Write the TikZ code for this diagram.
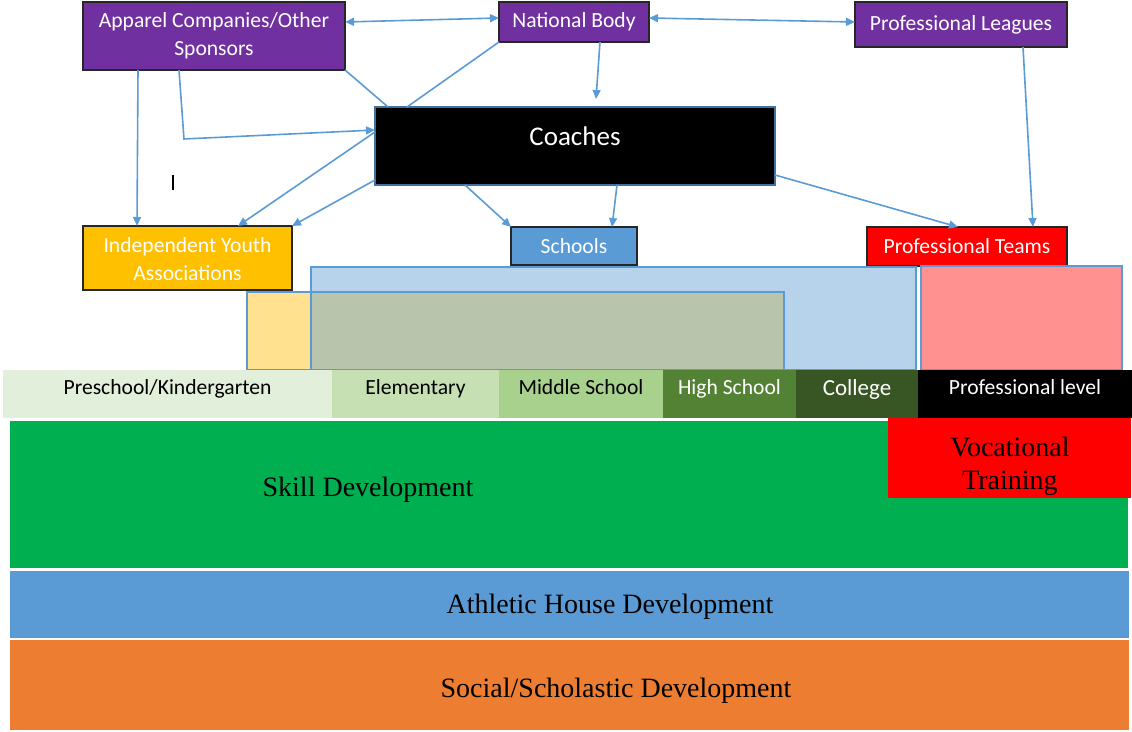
\documentclass[tikz,border=0pt]{standalone}
\usepackage{fontspec}
\setmainfont{Liberation Serif}
\newfontfamily\calibri{Carlito}
\usetikzlibrary{arrows.meta}

\definecolor{orgpurple}{HTML}{7030A0}
\definecolor{coachline}{HTML}{41719C}
\definecolor{youthgold}{HTML}{FFC000}
\definecolor{linkblue}{HTML}{5B9BD5}
\definecolor{zoneblue}{HTML}{B7D3EC}
\definecolor{zoneyellow}{HTML}{FFE190}
\definecolor{zonegrey}{HTML}{B8C4AC}
\definecolor{zonepink}{HTML}{FF9191}
\definecolor{stageA}{HTML}{E2EFDA}
\definecolor{stageB}{HTML}{C6E0B4}
\definecolor{stageC}{HTML}{A9D18E}
\definecolor{stageD}{HTML}{548235}
\definecolor{stageE}{HTML}{375623}
\definecolor{skillgreen}{HTML}{00B050}
\definecolor{socorange}{HTML}{ED7D31}

\begin{document}
\begin{tikzpicture}[x=0.5pt, y=-0.5pt,
    box/.style={draw=black!85, line width=0.6pt, inner sep=0pt, outer sep=0pt,
      text=white, align=center, font=\calibri\fontsize{10.8}{14}\selectfont},
    stage/.style={inner sep=0pt, outer sep=0pt, minimum height=24pt,
      text height=7pt, text depth=6.5pt,
      font=\calibri\fontsize{10.8}{12}\selectfont},
    band/.style={inner sep=0pt, outer sep=0pt},
    big/.style={align=center, font=\fontsize{14}{16.5}\selectfont},
    link/.style={draw=linkblue, line width=0.8pt},
    arr/.style={link, -{Triangle[length=4.5pt,width=4pt]}},
    zone/.style={draw=linkblue, line width=1pt}]
  \useasboundingbox (0,0) rectangle (1132,732);

  % organisations
  \node[box, fill=orgpurple, minimum width=131pt, minimum height=34pt] (app) at (214,36)
    {Apparel Companies/Other\\Sponsors};
  \node[box, fill=orgpurple, minimum width=75pt, minimum height=20pt] (nat) at (574,22)
    {National Body};
  \node[box, fill=orgpurple, minimum width=106pt, minimum height=22.5pt] (lea) at (961,24.5)
    {Professional Leagues};
  \node[box, draw=coachline, fill=black, minimum width=200pt, minimum height=39pt,
    text height=9.5pt, text depth=9.5pt,
    font=\calibri\fontsize{13.5}{15}\selectfont] (coach) at (575,146) {Coaches};
  \node[box, fill=youthgold, minimum width=104.5pt, minimum height=32pt] (iya) at (187.5,258)
    {\rule{0pt}{9pt}Independent Youth\\Associations};
  \node[box, fill=linkblue, minimum width=63pt, minimum height=19pt] (sch) at (574,246)
    {Schools};
  \node[box, fill=red, minimum width=100pt, minimum height=19.5pt] (team) at (967,246.5)
    {Professional Teams};

  % reach of each provider
  \fill[zoneblue] (311,267) rectangle (916,370);
  \fill[zoneyellow] (247,292) rectangle (311,370);
  \fill[zonegrey] (311,292) rectangle (784,370);
  \draw[zone] (311,267) rectangle (916,370);
  \draw[zone] (247,292) rectangle (784,370);
  \fill[zonepink] (921,266) rectangle (1122,370);
  \draw[zone] (921,266) rectangle (1122,370);

  % stages
  \node[stage, fill=stageA, minimum width=164.5pt] (pre) at (167.5,394) {Preschool/Kindergarten};
  \node[stage, fill=stageB, minimum width=83.5pt] (elem) at (415.5,394) {Elementary};
  \node[stage, fill=stageC, minimum width=82pt] (mid) at (581,394) {Middle School};
  \node[stage, fill=stageD, minimum width=66.5pt, text=white] (high) at (729.5,394) {High School};
  \node[stage, fill=stageE, minimum width=61pt, text=white, text depth=5.5pt,
    font=\calibri\fontsize{11.5}{13}\selectfont] (col) at (857,394) {College};
  \node[stage, fill=black, minimum width=107pt, text=white] (pro) at (1025,394) {Professional level};

  % development layers
  \node[band, fill=skillgreen, minimum width=559pt, minimum height=73.5pt] (skill) at (569,494.5) {};
  \node[big] (skilltxt) at (368,490) {Skill Development};
  \node[band, fill=red, minimum width=121.5pt, minimum height=40pt] (voc) at (1009.5,458) {};
  \node[big] (voctxt) at (1010,466) {Vocational\\Training};
  \node[band, fill=linkblue, minimum width=559.5pt, minimum height=33.5pt] (ath) at (569.5,604.5) {};
  \node[big] (athtxt) at (610,607) {Athletic House Development};
  \node[band, fill=socorange, minimum width=559.5pt, minimum height=45pt] (soc) at (569.5,685) {};
  \node[big] (soctxt) at (616,691) {Social/Scholastic Development};

  % links
  \draw[link, {Triangle[length=4.5pt,width=4pt]}-{Triangle[length=4.5pt,width=4pt]}]
    ([yshift=7pt]app.east) -- ([yshift=2pt]nat.west);
  \draw[link, {Triangle[length=4.5pt,width=4pt]}-{Triangle[length=4.5pt,width=4pt]}]
    ([yshift=2pt]nat.east) -- ([yshift=1.25pt]lea.west);
  \draw[arr] ([xshift=27.5pt]app.south west) -- ([xshift=27pt]iya.north west);
  \coordinate (bend) at (184,139);
  \draw[arr] ([xshift=48pt]app.south west) -- (bend) -- ([yshift=8pt]coach.west);
  \draw[link] (app.south east) -- ([xshift=6.5pt]coach.north west);
  \draw[link] (nat.south west) -- ([xshift=16pt]coach.north west);
  \draw[arr] ([xshift=13pt]nat.south) -- ([xshift=10.5pt,yshift=4pt]coach.north);
  \draw[arr] ([yshift=7pt]coach.west) -- ([xshift=25.25pt]iya.north);
  \draw[arr] ([yshift=-17pt]coach.west) -- (iya.north east);
  \draw[arr] ([xshift=45pt]coach.south west) -- (sch.north west);
  \draw[arr] ([xshift=21pt]coach.south) -- ([xshift=19pt]sch.north);
  \draw[arr] ([yshift=-14.5pt]coach.east) -- ([xshift=-4.5pt]team.north);
  \draw[arr] ([xshift=31pt]lea.south) -- ([xshift=33pt]team.north);

  \draw[line width=0.6pt] (173,175) -- (173,190);
\end{tikzpicture}
\end{document}
